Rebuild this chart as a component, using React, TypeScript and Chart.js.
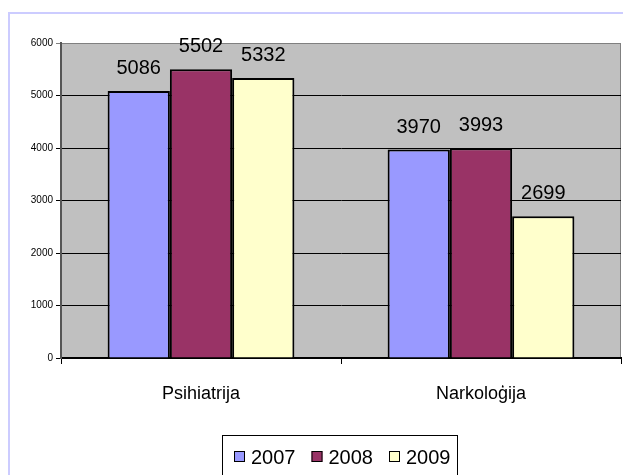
import React, { useEffect, useRef } from "react";
import { Chart, registerables } from "chart.js";

Chart.register(...registerables);

const categories = ["Psihiatrija", "Narkoloģija"];
const years = ["2007", "2008", "2009"];
const values2007 = [5086, 3970];
const values2008 = [5502, 3993];
const values2009 = [5332, 2699];
const yTicks = [0, 1000, 2000, 3000, 4000, 5000, 6000];
const colors = ["#9999FF", "#993366", "#FFFFCC"];

const FONT = "'Liberation Sans', Arial, sans-serif";

const decorPlugin = {
  id: "decor",
  beforeDraw(chart: any) {
    const { ctx, chartArea } = chart;
    ctx.save();
    ctx.fillStyle = "#ffffff";
    ctx.fillRect(0, 0, chart.width, chart.height);
    // outer frame
    ctx.strokeStyle = "#CCCCFF";
    ctx.lineWidth = 2;
    ctx.beginPath();
    ctx.moveTo(9, chart.height + 2);
    ctx.lineTo(9, 13);
    ctx.lineTo(chart.width + 2, 13);
    ctx.stroke();
    // plot background
    ctx.fillStyle = "#C0C0C0";
    ctx.fillRect(chartArea.left, chartArea.top, chartArea.right - chartArea.left, chartArea.bottom - chartArea.top);
    ctx.strokeStyle = "#808080";
    ctx.lineWidth = 1;
    ctx.strokeRect(chartArea.left + 0.5, chartArea.top + 0.5, chartArea.right - chartArea.left - 1, chartArea.bottom - chartArea.top);
    ctx.restore();
  },
  afterDatasetsDraw(chart: any) {
    const { ctx } = chart;
    ctx.save();
    ctx.font = `20px ${FONT}`;
    ctx.fillStyle = "#000";
    ctx.textAlign = "center";
    ctx.textBaseline = "alphabetic";
    chart.data.datasets.forEach((ds: any, i: number) => {
      const meta = chart.getDatasetMeta(i);
      meta.data.forEach((el: any, j: number) => {
        ctx.fillText(String(ds.data[j]), el.x, el.y - 17);
      });
    });
    ctx.restore();
  },
  afterDraw(chart: any) {
    const { ctx } = chart;
    ctx.save();
    // legend box
    const bx = 222, by = 435, bw = 235;
    ctx.fillStyle = "#fff";
    ctx.fillRect(bx, by, bw, 60);
    ctx.strokeStyle = "#000";
    ctx.lineWidth = 1;
    ctx.strokeRect(bx + 0.5, by + 0.5, bw, 60);
    ctx.font = `20px ${FONT}`;
    ctx.textBaseline = "middle";
    ctx.textAlign = "left";
    let x = 234;
    const cy = 457;
    years.forEach((y, i) => {
      ctx.fillStyle = colors[i];
      ctx.fillRect(x, cy - 6, 11, 11);
      ctx.strokeStyle = "#000";
      ctx.strokeRect(x + 0.5, cy - 5.5, 10, 10);
      ctx.fillStyle = "#000";
      ctx.fillText(y, x + 17, cy + 1);
      x += 77.5;
    });
    ctx.restore();
  },
};

export default function App() {
  const ref = useRef<HTMLCanvasElement>(null);
  useEffect(() => {
    const data = {
      labels: categories,
      datasets: [values2007, values2008, values2009].map((v, i) => ({
        label: years[i],
        data: v,
        backgroundColor: colors[i],
        borderColor: "#000",
        borderWidth: 2,
        categoryPercentage: 0.667,
        barPercentage: 1,
      })),
    };
    const chart = new Chart(ref.current as HTMLCanvasElement, {
      type: "bar",
      data,
      plugins: [decorPlugin],
      options: {
        responsive: false,
        animation: false,
        devicePixelRatio: 1,
        layout: { padding: { left: 0, top: 43, right: 2, bottom: 0 } },
        plugins: { legend: { display: false }, tooltip: { enabled: false } },
        scales: {
          x: {
            afterFit: (s: any) => {
              s.height = 117;
            },
            grid: {
              offset: true,
              drawOnChartArea: false,
              drawTicks: true,
              tickLength: 6,
              color: "#000",
            },
            border: { display: true, color: "#000", width: 2 },
            ticks: { font: { family: FONT, size: 18 }, color: "#000", padding: 19 },
          },
          y: {
            min: 0,
            max: 6000,
            afterFit: (s: any) => {
              s.width = 61;
            },
            afterBuildTicks: (s: any) => {
              s.ticks = yTicks.map((v) => ({ value: v }));
            },
            grid: {
              color: (c: any) => (c.tick && c.tick.value === 6000 ? "#808080" : "#000"),
              lineWidth: 1,
              tickLength: 5,
              drawTicks: true,
            },
            border: { display: true, color: "#555", width: 2 },
            ticks: {
              font: { family: FONT, size: 10 },
              color: "#000",
              padding: 3,
              callback: (v: any) => String(v),
            },
          },
        },
      },
    });
    return () => chart.destroy();
  }, []);
  return (
    <div style={{ position: "fixed", left: 0, top: 0, width: 623, height: 475 }}>
      <canvas ref={ref} width={623} height={475} style={{ display: "block" }} />
    </div>
  );
}
